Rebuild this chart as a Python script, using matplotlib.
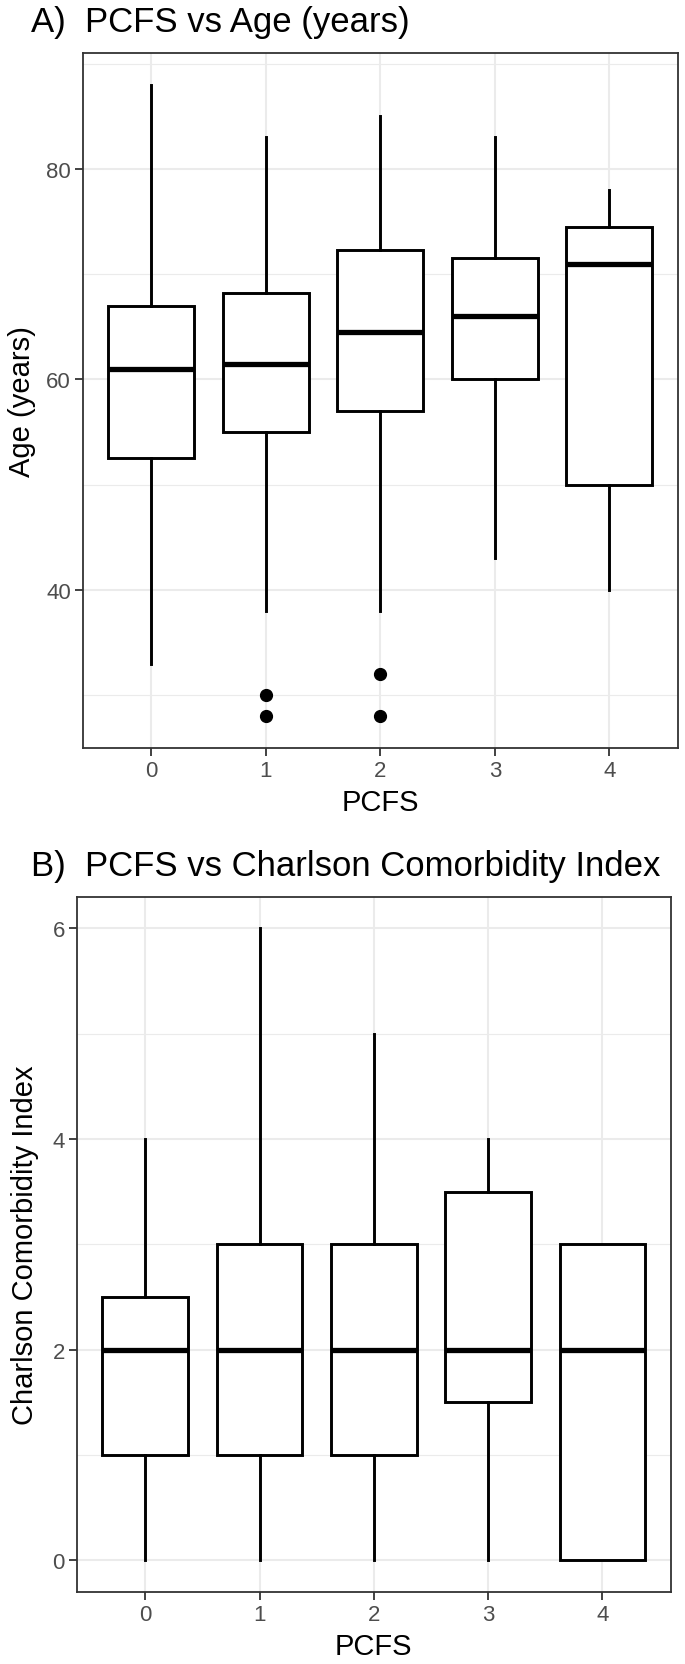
import matplotlib
matplotlib.use("Agg")
import matplotlib.pyplot as plt
from matplotlib.ticker import FixedLocator

plt.rcParams['font.family'] = ['Liberation Sans', 'DejaVu Sans']

# PCFS groups
pcfs = [0, 1, 2, 3, 4]

# Panel A: age box stats
age_lo = [33, 38, 38, 43, 40]
age_q1 = [52.5, 55, 57, 60, 50]
age_med = [61, 61.5, 64.5, 66, 71]
age_q3 = [67, 68.25, 72.25, 71.5, 74.5]
age_hi = [88, 83, 85, 83, 78]
age_out = [[], [30, 28], [32, 28], [], []]

# Panel B: Charlson comorbidity index box stats
cci_lo = [0, 0, 0, 0, 0]
cci_q1 = [1, 1, 1, 1.5, 0]
cci_med = [2, 2, 2, 2, 2]
cci_q3 = [2.5, 3, 3, 3.5, 3]
cci_hi = [4, 6, 5, 4, 3]
cci_out = [[], [], [], [], []]

W, H = 685, 1665
fig = plt.figure(figsize=(W / 100, H / 100), dpi=100)


def box_stats(lo, q1, med, q3, hi, out):
    return [dict(whislo=a, q1=b, med=c, q3=d, whishi=e, fliers=f)
            for a, b, c, d, e, f in zip(lo, q1, med, q3, hi, out)]


def panel(rect, stats, ylim, major, minor, ylabel, ylab_x):
    l, t, r, b = rect
    ax = fig.add_axes([l / W, 1 - b / H, (r - l) / W, (b - t) / H])
    ax.bxp(stats, positions=pcfs, widths=0.75, showcaps=False, patch_artist=True,
           boxprops=dict(facecolor='white', edgecolor='black', linewidth=2.1),
           whiskerprops=dict(color='black', linewidth=2.1),
           medianprops=dict(color='black', linewidth=3.8),
           flierprops=dict(marker='o', markerfacecolor='black', markeredgecolor='black',
                           markersize=8.5, linestyle='none'),
           zorder=3)
    ax.set_xlim(-0.6, 4.6)
    ax.set_ylim(*ylim)
    ax.set_xticks(pcfs)
    ax.set_xticklabels([str(p) for p in pcfs])
    ax.set_yticks(major)
    ax.yaxis.set_minor_locator(FixedLocator(minor))
    ax.grid(True, which='major', color='#EBEBEB', linewidth=1.5, zorder=0)
    ax.grid(True, which='minor', axis='y', color='#EBEBEB', linewidth=0.8, zorder=0)
    ax.set_axisbelow(True)
    for s in ax.spines.values():
        s.set_color('#333333')
        s.set_linewidth(1.3)
    ax.tick_params(which='major', length=5.5, width=1.3, color='#333333',
                   labelsize=16, labelcolor='#4D4D4D', pad=3)
    ax.tick_params(which='minor', length=0)
    ax.set_xlabel('PCFS', fontsize=21, color='black', va='center')
    ax.xaxis.set_label_coords(0.5, -0.0777)
    ax.set_ylabel(ylabel, fontsize=21, color='black', va='center')
    ax.yaxis.set_label_coords(ylab_x, 0.5)
    return ax


panel((82.7, 54, 678, 749), box_stats(age_lo, age_q1, age_med, age_q3, age_hi, age_out),
      (25, 91), [40, 60, 80], [30, 50, 70, 90], 'Age (years)', -0.102)
fig.text(30.7 / W, 1 - 32 / H, 'A)  PCFS vs Age (years)', fontsize=25, va='baseline', ha='left')

panel((76.7, 897.7, 671, 1593), box_stats(cci_lo, cci_q1, cci_med, cci_q3, cci_hi, cci_out),
      (-0.3, 6.3), [0, 2, 4, 6], [1, 3, 5], 'Charlson Comorbidity Index', -0.087)
fig.text(30.7 / W, 1 - 876 / H, 'B)  PCFS vs Charlson Comorbidity Index', fontsize=25,
         va='baseline', ha='left')

fig.savefig('out.png', dpi=100)
